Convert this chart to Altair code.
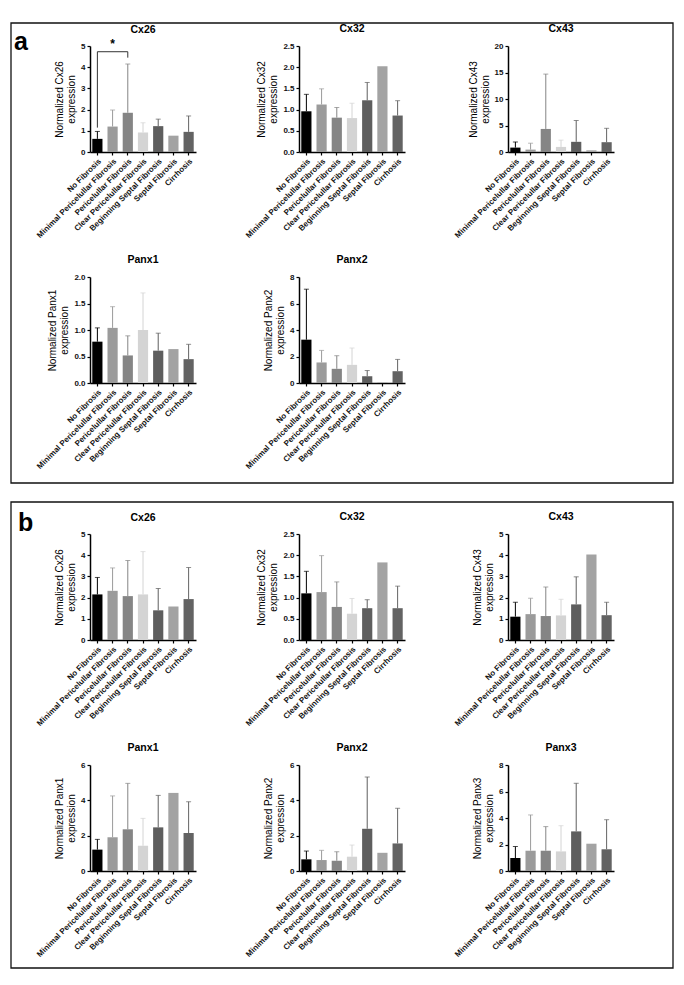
import altair as alt
import pandas as pd
import math

FONT = "Liberation Sans"

cats = ["No Fibrosis", "Minimal Pericelullar Fibrosis", "Pericelullar Fibrosis",
        "Clear Pericelullar Fibrosis", "Beginning Septal Fibrosis", "Septal Fibrosis", "Cirrhosis"]
colors = ["#000000", "#9b9b9b", "#858585", "#d4d4d4", "#5e5e5e", "#a3a3a3", "#636363"]

N = None
# ---- panel a ----
a_cx26_mean = [0.62, 1.20, 1.85, 0.92, 1.22, 0.77, 0.95]
a_cx26_err = [0.97, 1.98, 4.15, 1.38, 1.55, N, 1.70]
a_cx32_mean = [0.96, 1.12, 0.81, 0.80, 1.22, 2.02, 0.86]
a_cx32_err = [1.36, 1.49, 1.05, 1.15, 1.64, N, 1.21]
a_cx43_mean = [0.83, 0.45, 4.35, 0.96, 1.92, 0.32, 1.85]
a_cx43_err = [1.90, 1.66, 14.7, 2.24, 5.94, N, 4.47]
a_panx1_mean = [0.78, 1.04, 0.52, 1.00, 0.61, 0.64, 0.45]
a_panx1_err = [1.04, 1.44, 0.89, 1.70, 0.94, N, 0.73]
a_panx2_mean = [3.27, 1.55, 1.07, 1.37, 0.51, 0.03, 0.89]
a_panx2_err = [7.08, 2.46, 2.06, 2.64, 0.94, N, 1.78]
# ---- panel b ----
b_cx26_mean = [2.15, 2.32, 2.07, 2.15, 1.40, 1.58, 1.93]
b_cx26_err = [2.95, 3.40, 3.75, 4.17, 2.43, N, 3.42]
b_cx32_mean = [1.10, 1.13, 0.78, 0.62, 0.75, 1.83, 0.75]
b_cx32_err = [1.62, 1.99, 1.37, 0.98, 0.95, N, 1.27]
b_cx43_mean = [1.10, 1.22, 1.13, 1.16, 1.68, 4.03, 1.17]
b_cx43_err = [1.78, 1.97, 2.50, 1.92, 2.98, N, 1.78]
b_panx1_mean = [1.21, 1.91, 2.36, 1.43, 2.47, 4.42, 2.15]
b_panx1_err = [1.79, 4.25, 4.96, 2.98, 4.28, N, 3.92]
b_panx2_mean = [0.66, 0.62, 0.58, 0.81, 2.39, 1.03, 1.56]
b_panx2_err = [1.13, 1.17, 1.09, 1.47, 5.32, N, 3.55]
b_panx3_mean = [0.98, 1.53, 1.53, 1.48, 2.99, 2.06, 1.64]
b_panx3_err = [1.84, 4.23, 3.35, 3.42, 6.62, N, 3.87]

# significance bracket (panel a, Cx26)
sig_left = 1.15
sig_right = 4.45
sig_top = 4.73

W, H = 106, 106

XSCALE = alt.Scale(domain=cats, paddingInner=0.33, paddingOuter=0.15)
XAXIS = alt.Axis(labelAngle=-45, labelAlign="right", labelBaseline="top",
                 labelFontSize=8, labelFontWeight="bold", labelColor="#111",
                 labelPadding=2, tickSize=3, labelFont=FONT, labelOverlap=False, title=None)


def yaxis(name, ticks, fmt):
    return alt.Axis(values=ticks, format=fmt, title=["Normalized " + name, "expression"],
                    titleFontSize=10, titleFontWeight="normal", titleColor="#000",
                    titlePadding=4, labelFontSize=8, labelFontWeight="bold",
                    labelColor="#111", tickSize=3, labelPadding=2, titleFont=FONT,
                    labelFont=FONT, labelOverlap=False, labelFlush=False)


def panel(name, means, errs, ymax, ticks, fmt, extra=None):
    df = pd.DataFrame({"cat": cats, "mean": means,
                       "err": [e if e is not None else math.nan for e in errs],
                       "color": colors})
    base = alt.Chart(df)
    ax = yaxis(name, ticks, fmt)
    ysc = alt.Scale(domain=[0, ymax], nice=False, zero=True)
    x = alt.X("cat:N", title=None, scale=XSCALE, axis=XAXIS)
    col = alt.Color("color:N", scale=None, legend=None)
    bars = base.mark_bar().encode(x=x, y=alt.Y("mean:Q", scale=ysc, axis=ax, title=None), color=col)
    err = base.transform_filter("isValid(datum.err)").mark_rule(strokeWidth=1).encode(
        x=x, y=alt.Y("mean:Q", scale=ysc, axis=ax), y2="err:Q", color=col)
    caps = base.transform_filter("isValid(datum.err)").mark_tick(thickness=1, size=5).encode(
        x=x, y=alt.Y("err:Q", scale=ysc, axis=ax), color=col)
    layers = [bars, err, caps]
    if extra is not None:
        layers += extra(x, ysc, ax)
    return layers


def finish(layers, name):
    return alt.layer(*layers).properties(
        width=W, height=H,
        title=alt.TitleParams(name, fontSize=10.5, fontWeight="bold", font=FONT, offset=8))


deco = alt.Data(values=[{"k": 1}])


def frame(x1, x2, y1, y2):
    return alt.Chart(deco).mark_rect(filled=False, stroke="#111", strokeWidth=1.3).encode(
        x=alt.value(x1), x2=alt.value(x2), y=alt.value(y1), y2=alt.value(y2))


def letter(t, x, y):
    return alt.Chart(deco).mark_text(text=t, fontSize=25, fontWeight="bold", font=FONT,
                                     align="left", baseline="alphabetic", color="#000").encode(
        x=alt.value(x), y=alt.value(y))


def head(t):
    # panel heading drawn as text so that the frame does not push it upwards
    return alt.Chart(deco).mark_text(text=t, fontSize=10.5, fontWeight="bold", font=FONT,
                                     align="center", baseline="middle", color="#000").encode(
        x=alt.value(W / 2), y=alt.value(-16))


def finish_framed(layers):
    return alt.layer(*layers).properties(width=W, height=H)


def bracket(x, ysc, ax):
    sig = pd.DataFrame({"cat": [cats[0], cats[2]], "lo": [sig_left, sig_right],
                        "hi": [sig_top, sig_top]})
    vlines = alt.Chart(sig).mark_rule(color="#333", strokeWidth=1).encode(
        x=x, y=alt.Y("lo:Q", scale=ysc, axis=ax), y2="hi:Q")
    hline = alt.Chart(pd.DataFrame({"cat": [cats[0]], "cat2": [cats[2]], "y": [sig_top]})).mark_rule(
        color="#333", strokeWidth=1).encode(x=x, x2="cat2:N", y=alt.Y("y:Q", scale=ysc, axis=ax))
    star = alt.Chart(pd.DataFrame({"cat": [cats[1]], "y": [sig_top]})).mark_text(
        text="*", fontSize=12, fontWeight="bold", dy=-1, baseline="bottom", font=FONT).encode(
        x=x, y=alt.Y("y:Q", scale=ysc, axis=ax))
    return [vlines, hline, star]


# panel a
a1 = finish_framed(panel("Cx26", a_cx26_mean, a_cx26_err, 5, [0, 1, 2, 3, 4, 5], "d", bracket) +
                   [frame(-79, 583, -23, 437), letter("a", -76, 4), head("Cx26")])
a2 = finish(panel("Cx32", a_cx32_mean, a_cx32_err, 2.5, [0, 0.5, 1, 1.5, 2, 2.5], ".1f"), "Cx32")
a3 = finish(panel("Cx43", a_cx43_mean, a_cx43_err, 20, [0, 5, 10, 15, 20], "d"), "Cx43")
a4 = finish(panel("Panx1", a_panx1_mean, a_panx1_err, 2, [0, 0.5, 1, 1.5, 2], ".1f"), "Panx1")
a5 = finish(panel("Panx2", a_panx2_mean, a_panx2_err, 8, [0, 2, 4, 6, 8], "d"), "Panx2")
# invisible cell that also sets the height of the second row of panel a
spacer = alt.Chart(deco).mark_point(opacity=0).encode(
    x=alt.value(0), y=alt.value(0)).properties(width=W, height=132)

# panel b
b1 = finish_framed(panel("Cx26", b_cx26_mean, b_cx26_err, 5, [0, 1, 2, 3, 4, 5], "d") +
                   [frame(-79, 583, -32, 434), letter("b", -72, -3), head("Cx26")])
b2 = finish(panel("Cx32", b_cx32_mean, b_cx32_err, 2.5, [0, 0.5, 1, 1.5, 2, 2.5], ".1f"), "Cx32")
b3 = finish(panel("Cx43", b_cx43_mean, b_cx43_err, 5, [0, 1, 2, 3, 4, 5], "d"), "Cx43")
b4 = finish(panel("Panx1", b_panx1_mean, b_panx1_err, 6, [0, 2, 4, 6], "d"), "Panx1")
b5 = finish(panel("Panx2", b_panx2_mean, b_panx2_err, 6, [0, 2, 4, 6], "d"), "Panx2")
b6 = finish(panel("Panx3", b_panx3_mean, b_panx3_err, 8, [0, 2, 4, 6, 8], "d"), "Panx3")

chart = alt.concat(a1, a2, a3, a4, a5, spacer, b1, b2, b3, b4, b5, b6,
                   columns=3, spacing={"row": 125, "column": 103}, bounds="flush").properties(
    padding={"left": 2, "top": 14, "right": 2, "bottom": 5}, background="white"
).configure_view(stroke=None).configure_axis(
    grid=False, domainColor="#000", domainWidth=1.5, tickColor="#000", tickWidth=1.2,
    labelOverlap=False
).configure_axisX(labelLimit=200)

chart.save("out.html", embed_options={"renderer": "svg", "actions": False})
